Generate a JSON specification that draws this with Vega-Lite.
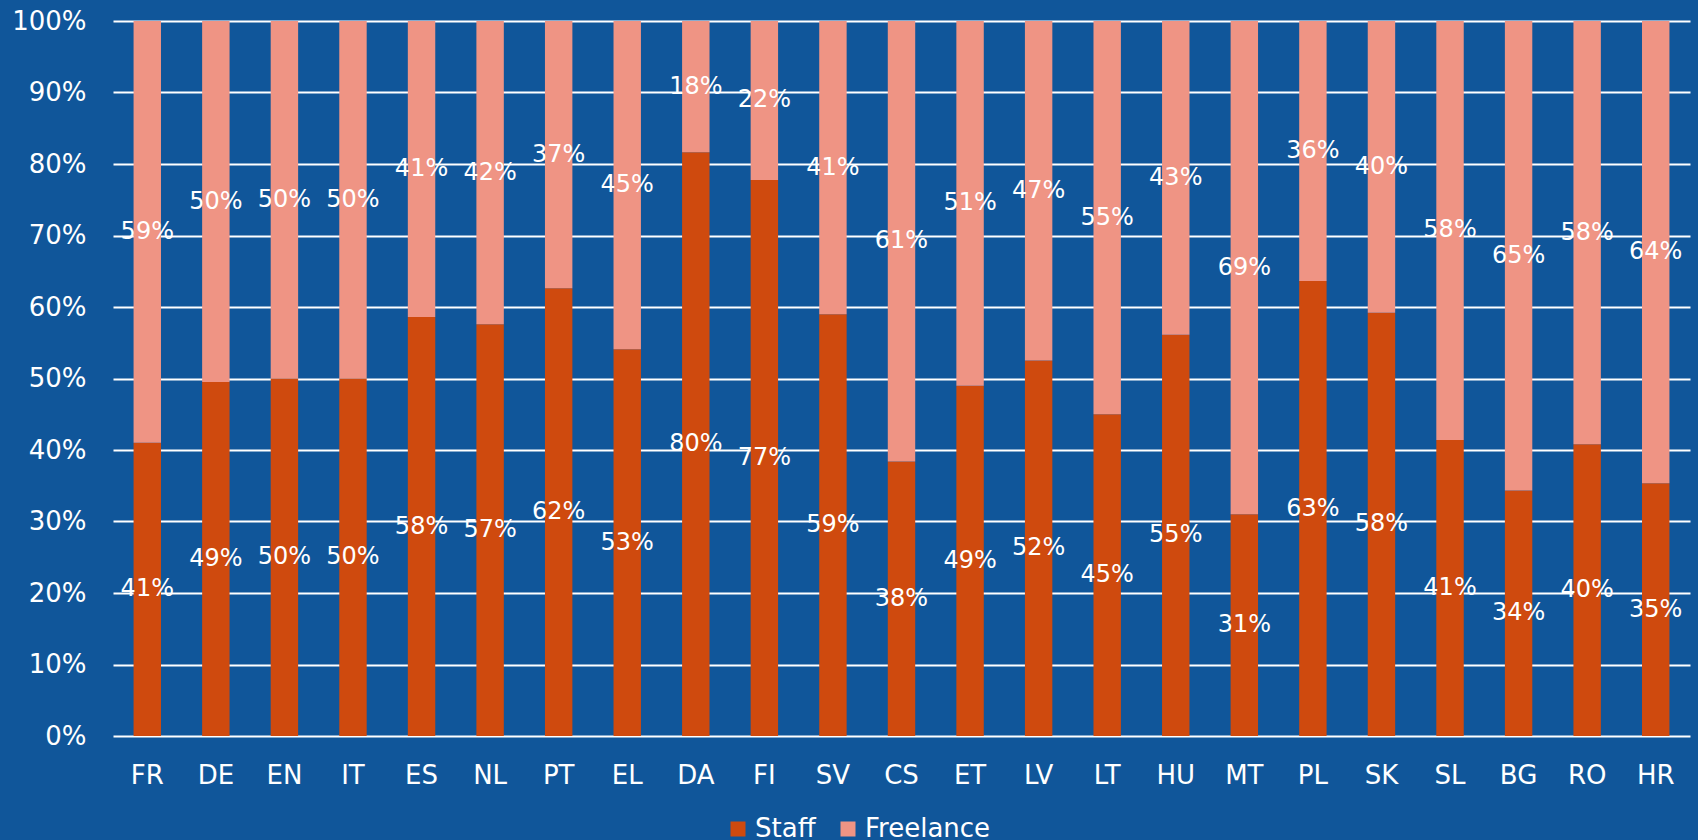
{
  "$schema": "https://vega.github.io/schema/vega-lite/v6.json",
  "width": 1577,
  "height": 715,
  "autosize": {"type": "none"},
  "padding": {"left": 113, "top": 21, "right": 8, "bottom": 104},
  "background": "#10569A",
  "config": {"view": {"stroke": null}, "font": "DejaVu Sans"},
  "data": {
    "values": [
      {"country": "FR", "series": "Staff", "value": 0.41}, {"country": "FR", "series": "Freelance", "value": 0.59},
      {"country": "DE", "series": "Staff", "value": 0.49}, {"country": "DE", "series": "Freelance", "value": 0.50},
      {"country": "EN", "series": "Staff", "value": 0.50}, {"country": "EN", "series": "Freelance", "value": 0.50},
      {"country": "IT", "series": "Staff", "value": 0.50}, {"country": "IT", "series": "Freelance", "value": 0.50},
      {"country": "ES", "series": "Staff", "value": 0.58}, {"country": "ES", "series": "Freelance", "value": 0.41},
      {"country": "NL", "series": "Staff", "value": 0.57}, {"country": "NL", "series": "Freelance", "value": 0.42},
      {"country": "PT", "series": "Staff", "value": 0.62}, {"country": "PT", "series": "Freelance", "value": 0.37},
      {"country": "EL", "series": "Staff", "value": 0.53}, {"country": "EL", "series": "Freelance", "value": 0.45},
      {"country": "DA", "series": "Staff", "value": 0.80}, {"country": "DA", "series": "Freelance", "value": 0.18},
      {"country": "FI", "series": "Staff", "value": 0.77}, {"country": "FI", "series": "Freelance", "value": 0.22},
      {"country": "SV", "series": "Staff", "value": 0.59}, {"country": "SV", "series": "Freelance", "value": 0.41},
      {"country": "CS", "series": "Staff", "value": 0.38}, {"country": "CS", "series": "Freelance", "value": 0.61},
      {"country": "ET", "series": "Staff", "value": 0.49}, {"country": "ET", "series": "Freelance", "value": 0.51},
      {"country": "LV", "series": "Staff", "value": 0.52}, {"country": "LV", "series": "Freelance", "value": 0.47},
      {"country": "LT", "series": "Staff", "value": 0.45}, {"country": "LT", "series": "Freelance", "value": 0.55},
      {"country": "HU", "series": "Staff", "value": 0.55}, {"country": "HU", "series": "Freelance", "value": 0.43},
      {"country": "MT", "series": "Staff", "value": 0.31}, {"country": "MT", "series": "Freelance", "value": 0.69},
      {"country": "PL", "series": "Staff", "value": 0.63}, {"country": "PL", "series": "Freelance", "value": 0.36},
      {"country": "SK", "series": "Staff", "value": 0.58}, {"country": "SK", "series": "Freelance", "value": 0.40},
      {"country": "SL", "series": "Staff", "value": 0.41}, {"country": "SL", "series": "Freelance", "value": 0.58},
      {"country": "BG", "series": "Staff", "value": 0.34}, {"country": "BG", "series": "Freelance", "value": 0.65},
      {"country": "RO", "series": "Staff", "value": 0.40}, {"country": "RO", "series": "Freelance", "value": 0.58},
      {"country": "HR", "series": "Staff", "value": 0.35}, {"country": "HR", "series": "Freelance", "value": 0.64}
    ]
  },
  "encoding": {
    "x": {
      "field": "country",
      "type": "nominal",
      "sort": null,
      "scale": {"paddingInner": 0.6, "paddingOuter": 0.3},
      "axis": {
        "title": null,
        "labelAngle": 0,
        "ticks": false,
        "domain": false,
        "grid": false,
        "labelColor": "white",
        "labelFontSize": 26,
        "labelPadding": 26
      }
    }
  },
  "layer": [
    {
      "mark": {"type": "bar"},
      "encoding": {
        "y": {
          "field": "value",
          "type": "quantitative",
          "stack": "normalize",
          "scale": {"domain": [0, 1]},
          "axis": {
            "title": null,
            "values": [0, 0.1, 0.2, 0.3, 0.4, 0.5, 0.6, 0.7, 0.8, 0.9, 1],
            "format": ".0%",
            "domain": false,
            "ticks": false,
            "labelColor": "white",
            "labelFontSize": 26,
            "labelPadding": 27,
            "gridColor": "white",
            "gridWidth": 2,
            "gridOpacity": 1
          }
        },
        "color": {
          "field": "series",
          "type": "nominal",
          "scale": {"domain": ["Staff", "Freelance"], "range": ["#CF4A0E", "#EF9484"]},
          "legend": {
            "title": null,
            "orient": "none",
            "legendX": 612,
            "legendY": 795,
            "direction": "horizontal",
            "symbolType": "square",
            "symbolSize": 225,
            "symbolStrokeWidth": 0,
            "symbolOpacity": 1,
            "labelColor": "white",
            "labelFontSize": 26,
            "labelOffset": 4,
            "columnPadding": 19
          }
        },
        "order": {"field": "series", "sort": "descending"}
      }
    },
    {
      "mark": {"type": "text", "color": "white", "fontSize": 24, "baseline": "middle"},
      "encoding": {
        "y": {"field": "value", "type": "quantitative", "stack": "normalize", "bandPosition": 0.5},
        "detail": {"field": "series"},
        "text": {"field": "value", "type": "quantitative", "format": ".0%"},
        "order": {"field": "series", "sort": "descending"}
      }
    }
  ]
}
